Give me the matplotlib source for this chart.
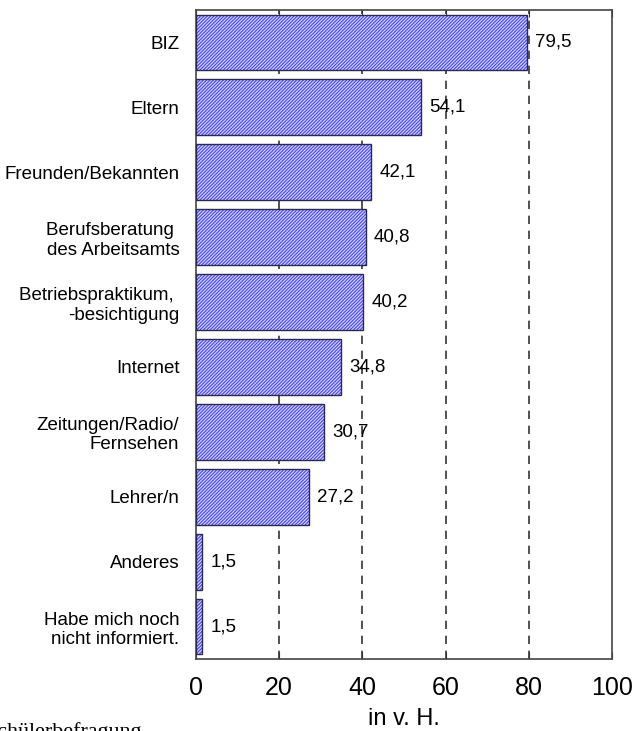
import numpy as np
import matplotlib.pyplot as plt

# Informationsquellen zur Berufswahl (Schuelerbefragung), Angaben in v. H.
labels = [
    "BIZ",
    "Eltern",
    "Freunden/Bekannten",
    "Berufsberatung \ndes Arbeitsamts",
    "Betriebspraktikum, \n-besichtigung",
    "Internet",
    "Zeitungen/Radio/\nFernsehen",
    "Lehrer/n",
    "Anderes",
    "Habe mich noch\nnicht informiert.",
]
values = [79.5, 54.1, 42.1, 40.8, 40.2, 34.8, 30.7, 27.2, 1.5, 1.5]
value_text = ["79,5", "54,1", "42,1", "40,8", "40,2", "34,8", "30,7", "27,2", "1,5", "1,5"]
xticks = [0, 20, 40, 60, 80, 100]

plt.rcParams["font.family"] = ["Liberation Sans", "DejaVu Sans"]
plt.rcParams["hatch.linewidth"] = 0.9

fig = plt.figure(figsize=(6.33, 7.31), dpi=100)
ax = fig.add_axes([0.3096, 0.0985, 0.6572, 0.8878])

y = np.arange(len(labels))
# hatch takes the edge colour, so fill+hatch first, then the dark outline on top
ax.barh(y, values, height=0.86, color="#dcdcff", edgecolor="#4b4bf0",
        linewidth=0, hatch="//////////", zorder=3)
ax.barh(y, values, height=0.86, fill=False, edgecolor="#2a2a50",
        linewidth=1.0, zorder=3.5)

for yi, v, t in zip(y, values, value_text):
    ax.text(v + 2.0, yi, t, va="center", ha="left", fontsize=13.5, zorder=4)

for gx in xticks[1:-1]:
    ax.axvline(gx, color="#333333", linestyle=(0, (5, 4)), linewidth=1.2, zorder=1)

ax.set_xlim(0, 100)
ax.set_ylim(len(labels) - 0.5, -0.5)
ax.set_xticks(xticks)
ax.set_xticklabels([str(t) for t in xticks], fontsize=18)
ax.set_yticks(y)
ax.set_yticklabels(labels, fontsize=13.5, ha="right")
ax.tick_params(axis="y", length=0, pad=12)
ax.tick_params(axis="x", direction="in", length=5, pad=12, top=True, color="#333333")
ax.set_xlabel("in v. H.", fontsize=17, labelpad=6)

for s in ax.spines.values():
    s.set_color("#444444")
    s.set_linewidth(1.2)

fig.text(-0.023, -0.008, "Schülerbefragung", fontsize=15.8,
         family=["Liberation Serif", "DejaVu Serif"], ha="left", va="baseline")

fig.savefig("out.png", dpi=100)
